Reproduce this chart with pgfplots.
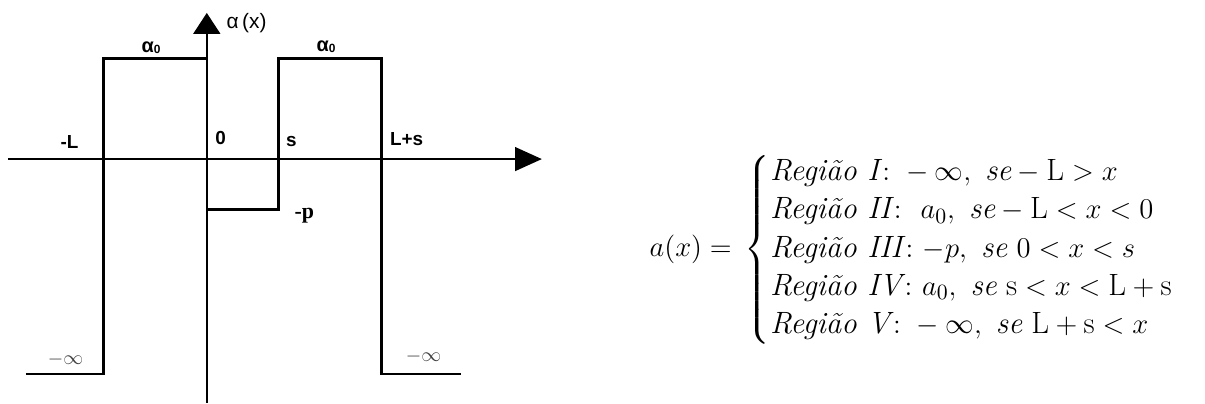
\documentclass[border=0pt]{standalone}
\usepackage{amsmath}
\usepackage{fontspec}
\usepackage{pgfplots}
\pgfplotsset{compat=1.18}
\usetikzlibrary{arrows.meta}
\newfontfamily\arialfont{Liberation Sans}
\newfontfamily\timesfont{Liberation Serif}

\begin{document}
\begin{tikzpicture}
\begin{axis}[
  x=0.5pt, y=0.5pt,
  axis lines=middle,
  xmin=-200, xmax=337,
  ymin=-245, ymax=147,
  xtick=\empty, ytick=\empty,
  enlargelimits=false,
  clip=false,
  x axis line style={line width=0.9pt, -{Triangle[length=13.5pt,width=12pt]}},
  y axis line style={line width=0.9pt, -{Triangle[length=10.5pt,width=13.5pt]}},
]
% invisible frame: whole picture 1205 x 405 px
\path (axis cs:-208,160) rectangle (axis cs:997,-245);

% step profile of the potential
\addplot[black, line width=1.3pt, sharp plot] coordinates {
  (-182,-216) (-104,-216) (-104,101) (0,101) (0,-51)
  (72,-51) (72,101) (176,101) (176,-216) (256,-216)
};

% labels
\node[font=\arialfont\fontsize{10.5}{12}\selectfont] at (axis cs:40,137) {α\,(x)};
\node[font=\arialfont\bfseries\fontsize{10}{12}\selectfont] at (axis cs:-56,112) {α\raisebox{-0.1ex}{\fontsize{6}{7}\selectfont 0}};
\node[font=\arialfont\bfseries\fontsize{10}{12}\selectfont] at (axis cs:120,113) {α\raisebox{-0.1ex}{\fontsize{6}{7}\selectfont 0}};
\node[font=\arialfont\bfseries\fontsize{9.5}{10}\selectfont] at (axis cs:-138,17) {-L};
\node[font=\arialfont\bfseries\fontsize{9.5}{10}\selectfont] at (axis cs:14,21) {0};
\node[font=\arialfont\bfseries\fontsize{9.5}{10}\selectfont] at (axis cs:85,18) {s};
\node[font=\arialfont\bfseries\fontsize{9.5}{10}\selectfont] at (axis cs:201,20) {L+s};
\node[font=\timesfont\bfseries\fontsize{11}{12}\selectfont] at (axis cs:98,-57) {-p};
\node[black!75, font=\fontsize{10}{12}\selectfont] at (axis cs:-142,-202) {$-\infty$};
\node[black!75, font=\fontsize{10}{12}\selectfont] at (axis cs:218,-199) {$-\infty$};

% piecewise definition
\node[anchor=west, inner sep=0pt, font=\fontsize{15.5}{16}\selectfont] at (axis cs:445,-91) {$
a(x) =\, \begin{cases}
\textit{Região I}\colon -\infty,\ \textit{se} -\mathrm{L} > x\\
\textit{Região II}\colon\ a_0,\ \textit{se} -\mathrm{L} < x < 0\\
\textit{Região III}\colon{-p},\ \textit{se}\ 0 < x < s\\
\textit{Região IV}\colon a_0,\ \textit{se}\ \mathrm{s} < x < \mathrm{L}+\mathrm{s}\\
\textit{Região V}\colon -\infty,\ \textit{se}\ \mathrm{L}+\mathrm{s} < x
\end{cases}$};
\end{axis}
\end{tikzpicture}
\end{document}
